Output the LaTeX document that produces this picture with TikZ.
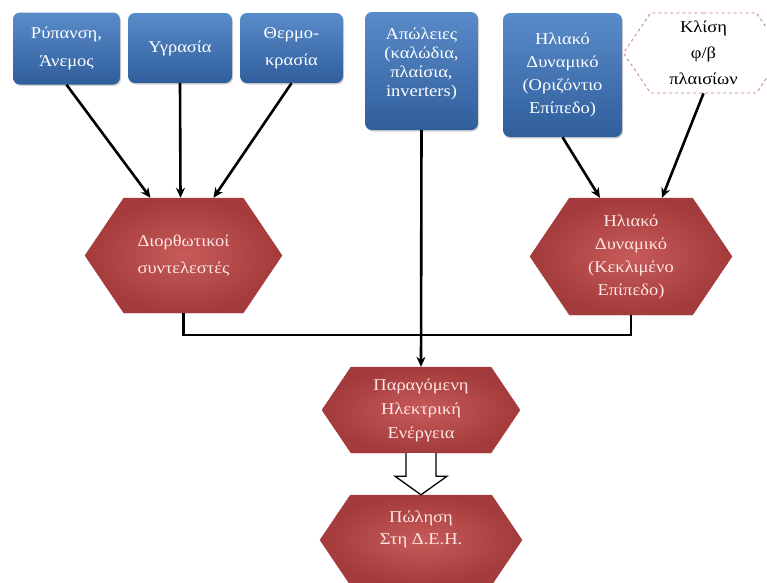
\documentclass[tikz,border=0pt]{standalone}
\usepackage{fontspec}
\setmainfont{Liberation Serif}[FakeStretch=1.12]
\usetikzlibrary{arrows.meta,positioning,shapes.symbols,shadows,calc}

\definecolor{boxtop}{HTML}{5A8BC9}
\definecolor{boxbot}{HTML}{2F5E9B}
\definecolor{hexin}{HTML}{C65B59}
\definecolor{hexout}{HTML}{A33A3B}
\definecolor{dashred}{HTML}{C77A7A}

\begin{document}
\begin{tikzpicture}[
  x=1pt,y=-1pt,
  factor/.style={rectangle,rounded corners=7pt,top color=boxtop,bottom color=boxbot,
    text=white,align=center,font=\fontsize{16.5}{23}\selectfont,inner sep=2pt,
    drop shadow={shadow xshift=1pt,shadow yshift=-1.5pt,opacity=0.35}},
  hexbase/.style={signal,signal to=west and east,signal pointer angle=112,
    align=center,font=\fontsize{16.5}{24}\selectfont,inner sep=1pt},
  hexa/.style={hexbase,inner color=hexin,outer color=hexout,draw=hexout,
    text=white!90!red},
  tilt/.style={hexbase,draw=dashred,dashed,thick,fill=white,text=black,
    font=\fontsize{16.5}{26}\selectfont},
  arr/.style={-{Stealth[length=10pt,width=9pt]},line width=2.6pt},
  conn/.style={line width=2.6pt},
  hollow/.style={line width=1.3pt,fill=white,line join=miter}
]
\path[use as bounding box,clip] (0,0) rectangle (767,582);

% input factors
\node[factor,minimum width=107pt,minimum height=72pt,font=\fontsize{16.5}{28}\selectfont] (ryp) at (66.5,48.5) {Ρύπανση,\\Άνεμος};
\node[factor,minimum width=104pt,minimum height=70pt] (ygr) at (180,48) {Υγρασία};
\node[factor,minimum width=103pt,minimum height=70pt,font=\fontsize{16.5}{27}\selectfont] (therm) at (291.5,48) {Θερμο-\\κρασία};
\node[factor,minimum width=113pt,minimum height=118pt,font=\fontsize{16.5}{19}\selectfont] (apol) at (421.5,71) {Απώλειες\\(καλώδια,\\πλαίσια,\\inverters)\\[-1pt]\mbox{}};
\node[factor,minimum width=119pt,minimum height=124pt] (oriz) at (562.5,75) {Ηλιακό\\Δυναμικό\\(Οριζόντιο\\Επίπεδο)};
\node[tilt,minimum width=160pt,minimum height=80pt] (klisi) at (703.5,53) {Κλίση\\φ/β\\πλαισίων};

% intermediate results
\node[hexa,minimum width=197pt,minimum height=115pt,font=\fontsize{16.5}{27}\selectfont] (diorth) at (183.5,255.5) {Διορθωτικοί\\συντελεστές};
\node[hexa,minimum width=202pt,minimum height=117pt,font=\fontsize{16.5}{23}\selectfont] (kekl) at (631,256.5) {Ηλιακό\\Δυναμικό\\(Κεκλιμένο\\Επίπεδο)};
\node[hexa,minimum width=198pt,minimum height=86pt] (prod) at (421,410) {Παραγόμενη\\Ηλεκτρική\\Ενέργεια};
\node[hexa,minimum width=202pt,minimum height=90pt,font=\fontsize{16.5}{22}\selectfont] (sell) at (421,540) {Πώληση\\Στη Δ.Ε.Η.\\[2pt]\mbox{}};

\coordinate (junc) at (421,335);

\draw[arr] (ryp.south) -- ([xshift=-33pt]diorth.north);
\draw[arr] (ygr.south) -- ([xshift=-3pt]diorth.north);
\draw[arr] (therm.south) -- ([xshift=30pt]diorth.north);
\draw[arr] (oriz.south) -- ([xshift=-31pt]kekl.north);
\draw[arr] (klisi.south) -- ([xshift=31pt]kekl.north);
\draw[conn] (diorth.south) |- (junc) -| (kekl.south);
\draw[arr] (apol.south) -- (prod.north);

% block arrow to the sale
\draw[hollow] ($(prod.south)+(-15,0)$) -- ($(prod.south)+(-15,23)$) -- ($(prod.south)+(-26,23)$)
  -- (sell.north) -- ($(prod.south)+(26,23)$) -- ($(prod.south)+(15,23)$) -- ($(prod.south)+(15,0)$);
\end{tikzpicture}
\end{document}
